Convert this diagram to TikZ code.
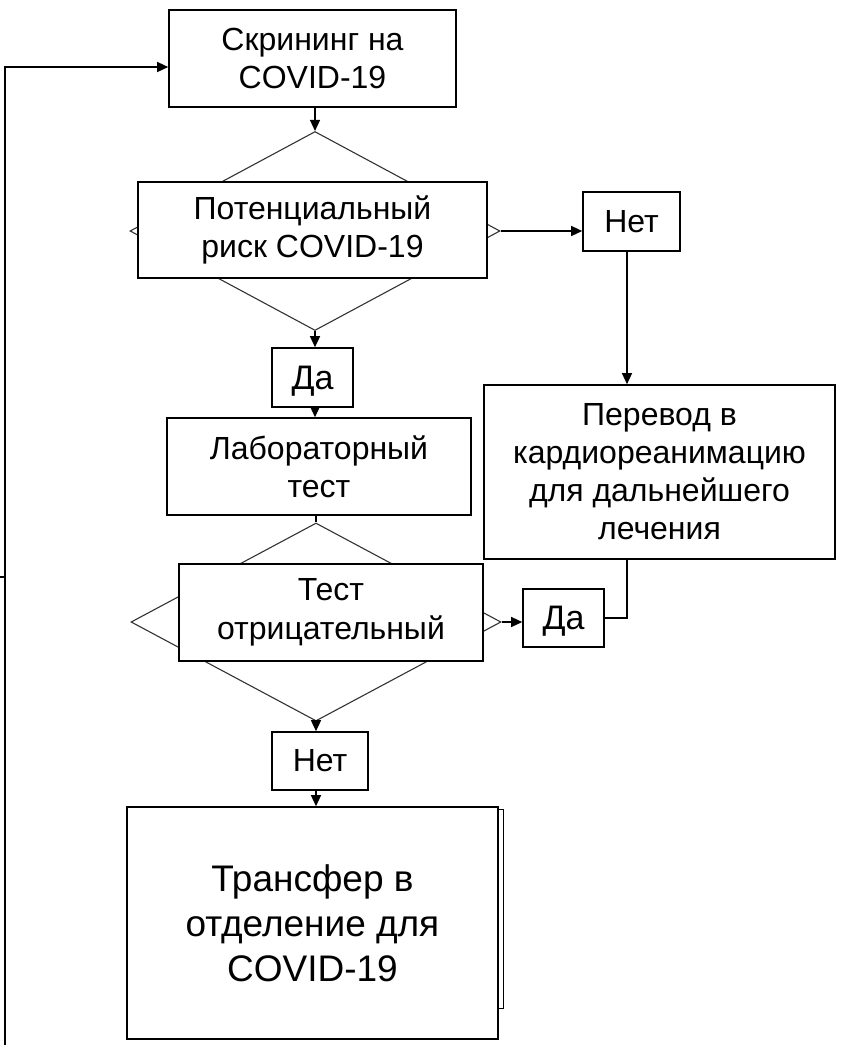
\documentclass[tikz,border=0pt]{standalone}
\usepackage{fontspec}
\setmainfont{Liberation Sans}
\usetikzlibrary{arrows.meta,shapes.geometric}
\begin{document}
\begin{tikzpicture}[x=1pt,y=-1pt,
  box/.style={draw=black,line width=1.6pt,fill=white,inner sep=0pt,align=center,font=\fontsize{32}{38}\selectfont},
  yesbox/.style={box,font=\fontsize{34}{38}\selectfont,text depth=0pt},
  dia/.style={diamond,draw=black!80,line width=1.1pt,inner sep=0pt},
  arr/.style={line width=1.3pt,-{Triangle[length=11pt,width=10pt]}},
  ln/.style={line width=1.3pt}]
\useasboundingbox (0,0) rectangle (846,1045);
% decisions
\node[dia, minimum width=370pt, minimum height=199pt] (d1) at (315,231) {};
\node[dia, minimum width=370pt, minimum height=198pt] (d2) at (316,622) {};
% boxes
\node[box, minimum width=287pt, minimum height=97pt] (scr) at (312.5,58.5) {Скрининг на\\COVID-19};
\node[box, minimum width=349pt, minimum height=96pt] (pr1) at (312.5,230) {Потенциальный\\риск COVID-19};
\node[box, minimum width=97pt, minimum height=59pt] (net1) at (631.5,221.5) {Нет};
\node[yesbox, minimum width=81pt, minimum height=59pt] (da1) at (312.5,377.5) {Да};
\node[box, minimum width=304pt, minimum height=97pt] (lab) at (319,466.5) {Лабораторный\\тест};
\node[box, minimum width=351pt, minimum height=174pt] (per) at (659.5,472) {Перевод в\\кардиореанимацию\\для дальнейшего\\лечения};
\node[box, minimum width=304pt, minimum height=97pt, font=\fontsize{32}{39}\selectfont] (pr2) at (331,612.5) {Тест\\отрицательный};
\node[yesbox, minimum width=81pt, minimum height=58pt] (da2) at (563.5,618) {Да};
\node[box, minimum width=96pt, minimum height=58pt] (net2) at (320,761) {Нет};
\node[box, minimum width=371pt, minimum height=232pt, font=\fontsize{37}{45}\selectfont] (big) at (312.5,923) {Трансфер в\\отделение для\\COVID-19};
% side frame of the big box
\draw[line width=1.2pt] (big.north east) ++(0,3) -- ++(5,0) -- ++(0,199) -- ++(-5,0);
% connectors
\draw[arr] (d1.north |- scr.south) -- (d1.north);
\draw[arr] (d1.east) -- (d1.east -| net1.west);
\draw[arr] ([xshift=-4.5pt]net1.south) -- ([xshift=-4.5pt]net1.south |- per.north);
\draw[arr] (d1.south) -- (d1.south |- da1.north);
\draw[arr] (d1.south |- da1.south) -- (d1.south |- lab.north);
\draw[ln] (d2.north |- lab.south) -- (d2.north);
\draw[arr] (d2.east) -- (d2.east -| da2.west);
\draw[ln] ([xshift=-32.5pt]per.south) |- (da2.east);
\draw[arr] (d2.south) -- (d2.south |- net2.north);
\draw[arr] (d2.south |- net2.south) -- (d2.south |- big.north);
% return line
\coordinate (lb) at (5,1045);
\coordinate (lt) at (5,67);
\coordinate (tk) at (0,577);
\draw[arr] (lb) -- (lt) -- (lt -| scr.west);
\draw[ln] (tk) -- (tk -| lt);
\end{tikzpicture}
\end{document}
